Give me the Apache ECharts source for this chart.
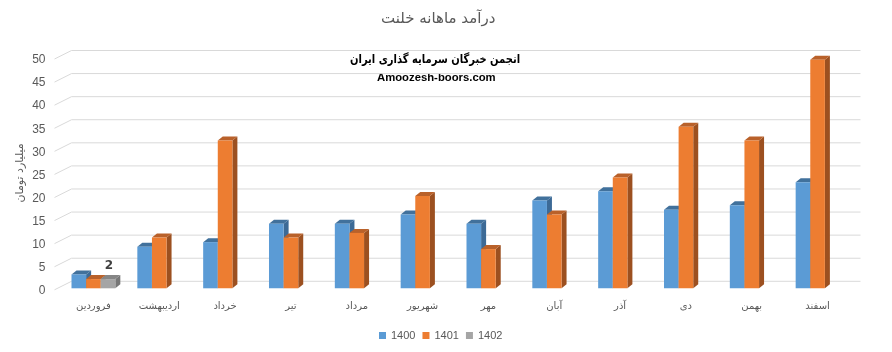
<!DOCTYPE html>
<html>
<head>
<meta charset="utf-8">
<script src="https://cdn.jsdelivr.net/npm/echarts@6/dist/echarts.min.js"></script>
<style>
  html, body { margin: 0; padding: 0; background: #fff; }
  #main { width: 892px; height: 352px; }
</style>
</head>
<body>
<div id="main"></div>
<script>
// ماه‌ها
const months = ["فروردین", "اردیبهشت", "خرداد", "تیر", "مرداد", "شهریور", "مهر", "آبان", "آذر", "دی", "بهمن", "اسفند"];
const v1400 = [3, 9, 10, 14, 14, 16, 14, 19, 21, 17, 18, 23];
const v1401 = [2, 11, 32, 11, 12, 20, 8.5, 16, 24, 35, 32, 49.5];
const v1402 = [2, null, null, null, null, null, null, null, null, null, null, null];
const yTicks = [0, 5, 10, 15, 20, 25, 30, 35, 40, 45, 50];

const font = "DejaVu Sans";
const grey = "#595959";
// front, top, side
const colors = [
  ["#5b9bd5", "#41719c", "#3c6a96"],
  ["#ed7d31", "#b9612a", "#9c5020"],
  ["#a5a5a5", "#858585", "#777777"],
];
const DX = 5, DY = -4;

const myChart = echarts.init(document.getElementById("main"));

function toData(arr) {
  return arr.map((v, i) => [i, v]);
}

function barItem(k) {
  return function (params, api) {
    const v = api.value(1);
    if (v == null || isNaN(v)) return;
    const band = api.size([1, 0])[0];
    const w = band * 0.222;
    const c = api.coord([api.value(0), v]);
    const b = api.coord([api.value(0), 0]);
    const x = c[0] - 1.5 * w + k * w;
    const y = c[1];
    const y0 = b[1];
    const col = colors[k];
    const children = [
      {
        type: "polygon",
        shape: { points: [[x + w, y], [x + w + DX, y + DY], [x + w + DX, y0 + DY], [x + w, y0]] },
        style: { fill: col[2] },
      },
      {
        type: "polygon",
        shape: { points: [[x, y], [x + DX, y + DY], [x + w + DX, y + DY], [x + w, y]] },
        style: { fill: col[1] },
      },
      {
        type: "rect",
        shape: { x: x, y: y, width: w, height: y0 - y },
        style: { fill: col[0] },
      },
    ];
    if (k === 2) {
      children.push({
        type: "text",
        style: {
          x: x + w / 2 + 1, y: y + DY - 9,
          text: String(v), fill: "#404040",
          font: "bold 12px " + font, align: "center", verticalAlign: "middle",
        },
      });
    }
    return { type: "group", children: children };
  };
}

function gridItem(params, api) {
  const cs = params.coordSys;
  const y = api.coord([0, api.value(0)])[1];
  return {
    type: "polyline",
    shape: { points: [[cs.x - 6, y + 1.5], [cs.x + 11, y - 7], [cs.x + cs.width + 10, y - 7]] },
    style: { stroke: "#d9d9d9", lineWidth: 1, fill: null },
  };
}

const names = ["1400", "1401", "1402"];
const vals = [v1400, v1401, v1402];

const option = {
  animation: false,
  title: {
    text: "درآمد ماهانه خلنت",
    left: 376,
    top: 7,
    textStyle: { color: grey, fontFamily: font, fontSize: 15, fontWeight: "normal" },
  },
  legend: {
    data: names,
    left: 374,
    top: 325,
    icon: "rect",
    itemWidth: 7,
    itemHeight: 7,
    itemGap: 7,
    textStyle: { color: grey, fontFamily: "Liberation Sans", fontSize: 11 },
  },
  graphic: [
    {
      type: "text", x: 350, y: 60,
      scaleX: 0.83,
      style: {
        text: "انجمن خبرگان سرمایه گذاری ایران", fill: "#000",
        font: "bold 12px " + font, verticalAlign: "middle",
      },
    },
    {
      type: "text", x: 377, y: 78,
      style: {
        text: "Amoozesh-boors.com", fill: "#000",
        font: "bold 11.3px Liberation Sans", verticalAlign: "middle",
      },
    },
  ],
  grid: { left: 60.5, right: 41.5, top: 57.5, bottom: 63.7 },
  xAxis: {
    type: "category",
    data: months,
    axisLine: { show: false },
    axisTick: { show: false },
    axisLabel: { color: grey, fontFamily: font, fontSize: 10, margin: 13 },
  },
  yAxis: {
    type: "value",
    min: 0,
    max: 50,
    interval: 5,
    name: "میلیارد تومان",
    nameLocation: "middle",
    nameRotate: 90,
    nameGap: 35,
    nameMoveOverlap: false,
    nameTextStyle: { color: grey, fontFamily: font, fontSize: 11 },
    splitLine: { show: false },
    axisLine: { show: false },
    axisTick: { show: false },
    axisLabel: {
      margin: 15,
      formatter: "{v|{value}}",
      rich: {
        v: { color: grey, fontFamily: "Liberation Sans", fontSize: 12, padding: [5, 0, 0, 0] },
      },
    },
  },
  series: [
    {
      type: "custom",
      name: "grid",
      z: 1,
      silent: true,
      renderItem: gridItem,
      encode: { y: 0 },
      data: yTicks.map((t) => [t]),
    },
  ].concat(
    names.map((n, k) => ({
      type: "custom",
      name: n,
      z: 2,
      itemStyle: { color: colors[k][0] },
      renderItem: barItem(k),
      encode: { x: 0, y: 1 },
      data: toData(vals[k]),
    }))
  ),
};

myChart.setOption(option);
</script>
</body>
</html>
